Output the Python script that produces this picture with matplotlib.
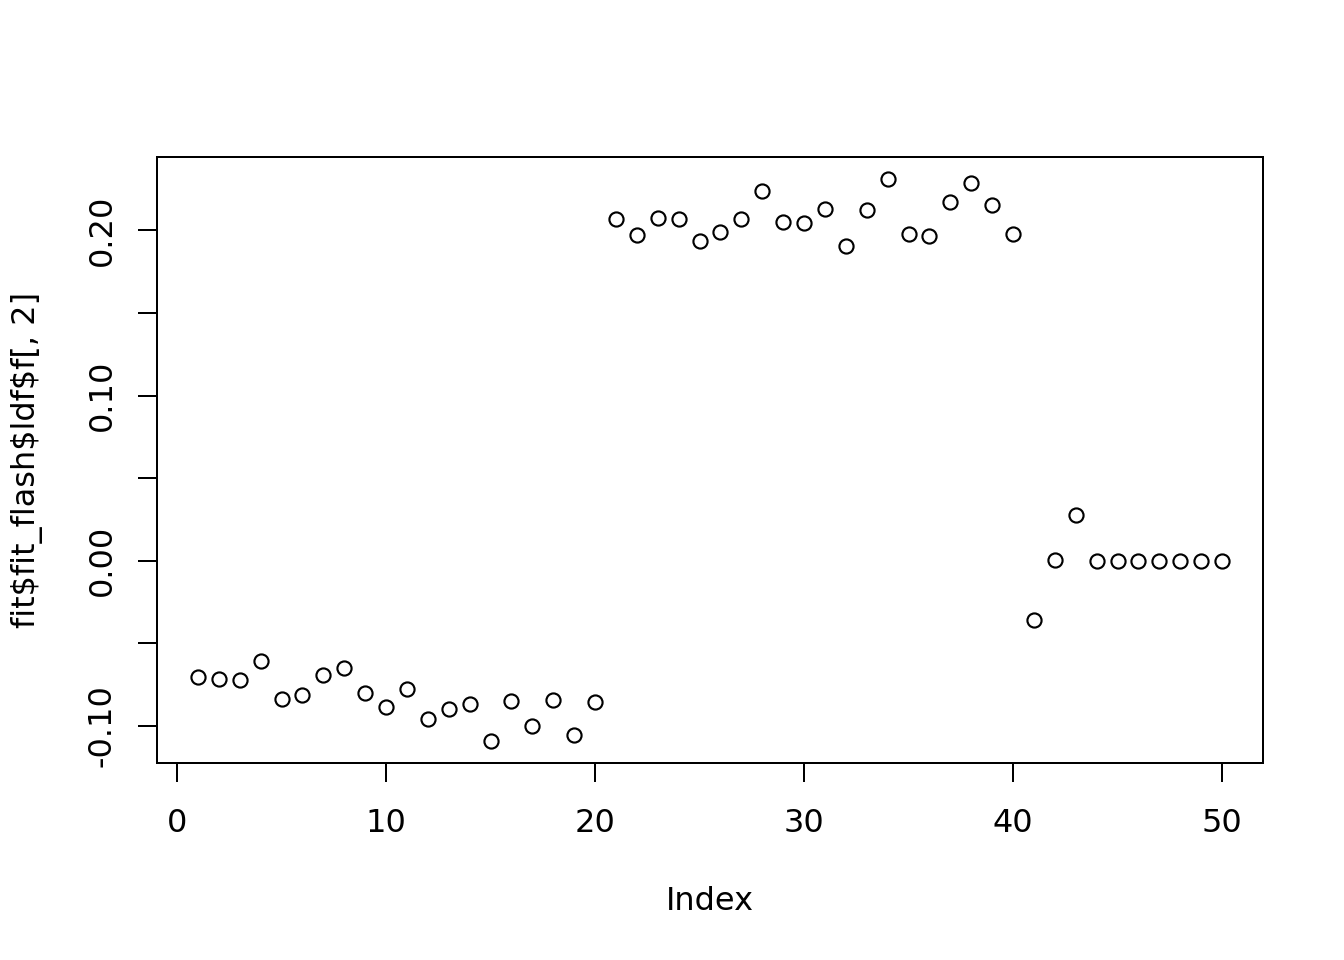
import matplotlib
matplotlib.use("Agg")
import matplotlib.pyplot as plt

index = list(range(1, 51))
values = [
    -0.0701, -0.0713, -0.0719, -0.0604, -0.0834, -0.0810, -0.0689, -0.0647, -0.0798, -0.0882,
    -0.0773, -0.0955, -0.0894, -0.0864, -0.1088, -0.0846, -0.0997, -0.0840, -0.1057, -0.0852,
    0.2066, 0.1970, 0.2073, 0.2066, 0.1934, 0.1988, 0.2066, 0.2236, 0.2048, 0.2042,
    0.2127, 0.1903, 0.2121, 0.2308, 0.1976, 0.1964, 0.2169, 0.2284, 0.2151, 0.1976,
    -0.0356, 0.0006, 0.0278, 0.0000, 0.0000, 0.0000, 0.0000, 0.0000, 0.0000, 0.0000,
]
xticks = [0, 10, 20, 30, 40, 50]
yticks = [-0.10, -0.05, 0.00, 0.05, 0.10, 0.15, 0.20]
ytick_labels = ["-0.10", "", "0.00", "", "0.10", "", "0.20"]
xlabel = "Index"
ylabel = "fit$fit_flash$ldf$f[, 2]"

plt.rcParams['font.family'] = ['DejaVu Sans']
plt.rcParams['font.size'] = 12

fig = plt.figure(figsize=(7, 5), dpi=192)
ax = fig.add_axes([157/1344, 1 - 763/960, (1263-157)/1344, (763-157)/960])

ax.plot(index, values, linestyle='none', marker='o', markersize=5.3,
        markerfacecolor='none', markeredgecolor='black', markeredgewidth=0.8)

# R-style 4% range extension
xmin, xmax = min(index), max(index)
dx = (xmax - xmin) * 0.04
ax.set_xlim(xmin - dx, xmax + dx)
ymin, ymax = min(values), max(values)
dy = (ymax - ymin) * 0.04
ax.set_ylim(ymin - dy, ymax + dy)

ax.set_xticks(xticks)
ax.set_xticklabels([str(t) for t in xticks])
ax.set_yticks(yticks)
ax.set_yticklabels(ytick_labels)

for s in ax.spines.values():
    s.set_linewidth(0.75)
    s.set_color('black')

ax.tick_params(axis='both', direction='out', length=7.2, width=0.75, colors='black', labelsize=12)
ax.tick_params(axis='x', pad=9.5)
ax.tick_params(axis='y', pad=7.5)
for lab in ax.get_yticklabels():
    lab.set_rotation(90)
    lab.set_va('center')
    lab.set_ha('right')

ax.set_xlabel(xlabel, fontsize=12, va='center')
ax.xaxis.set_label_coords(0.5, -(901 - 763) / 606)
ax.set_ylabel(ylabel, fontsize=12, va='center')
ax.yaxis.set_label_coords(-(157 - 27) / 1106, 0.5)

fig.savefig("out.png", dpi=192)
